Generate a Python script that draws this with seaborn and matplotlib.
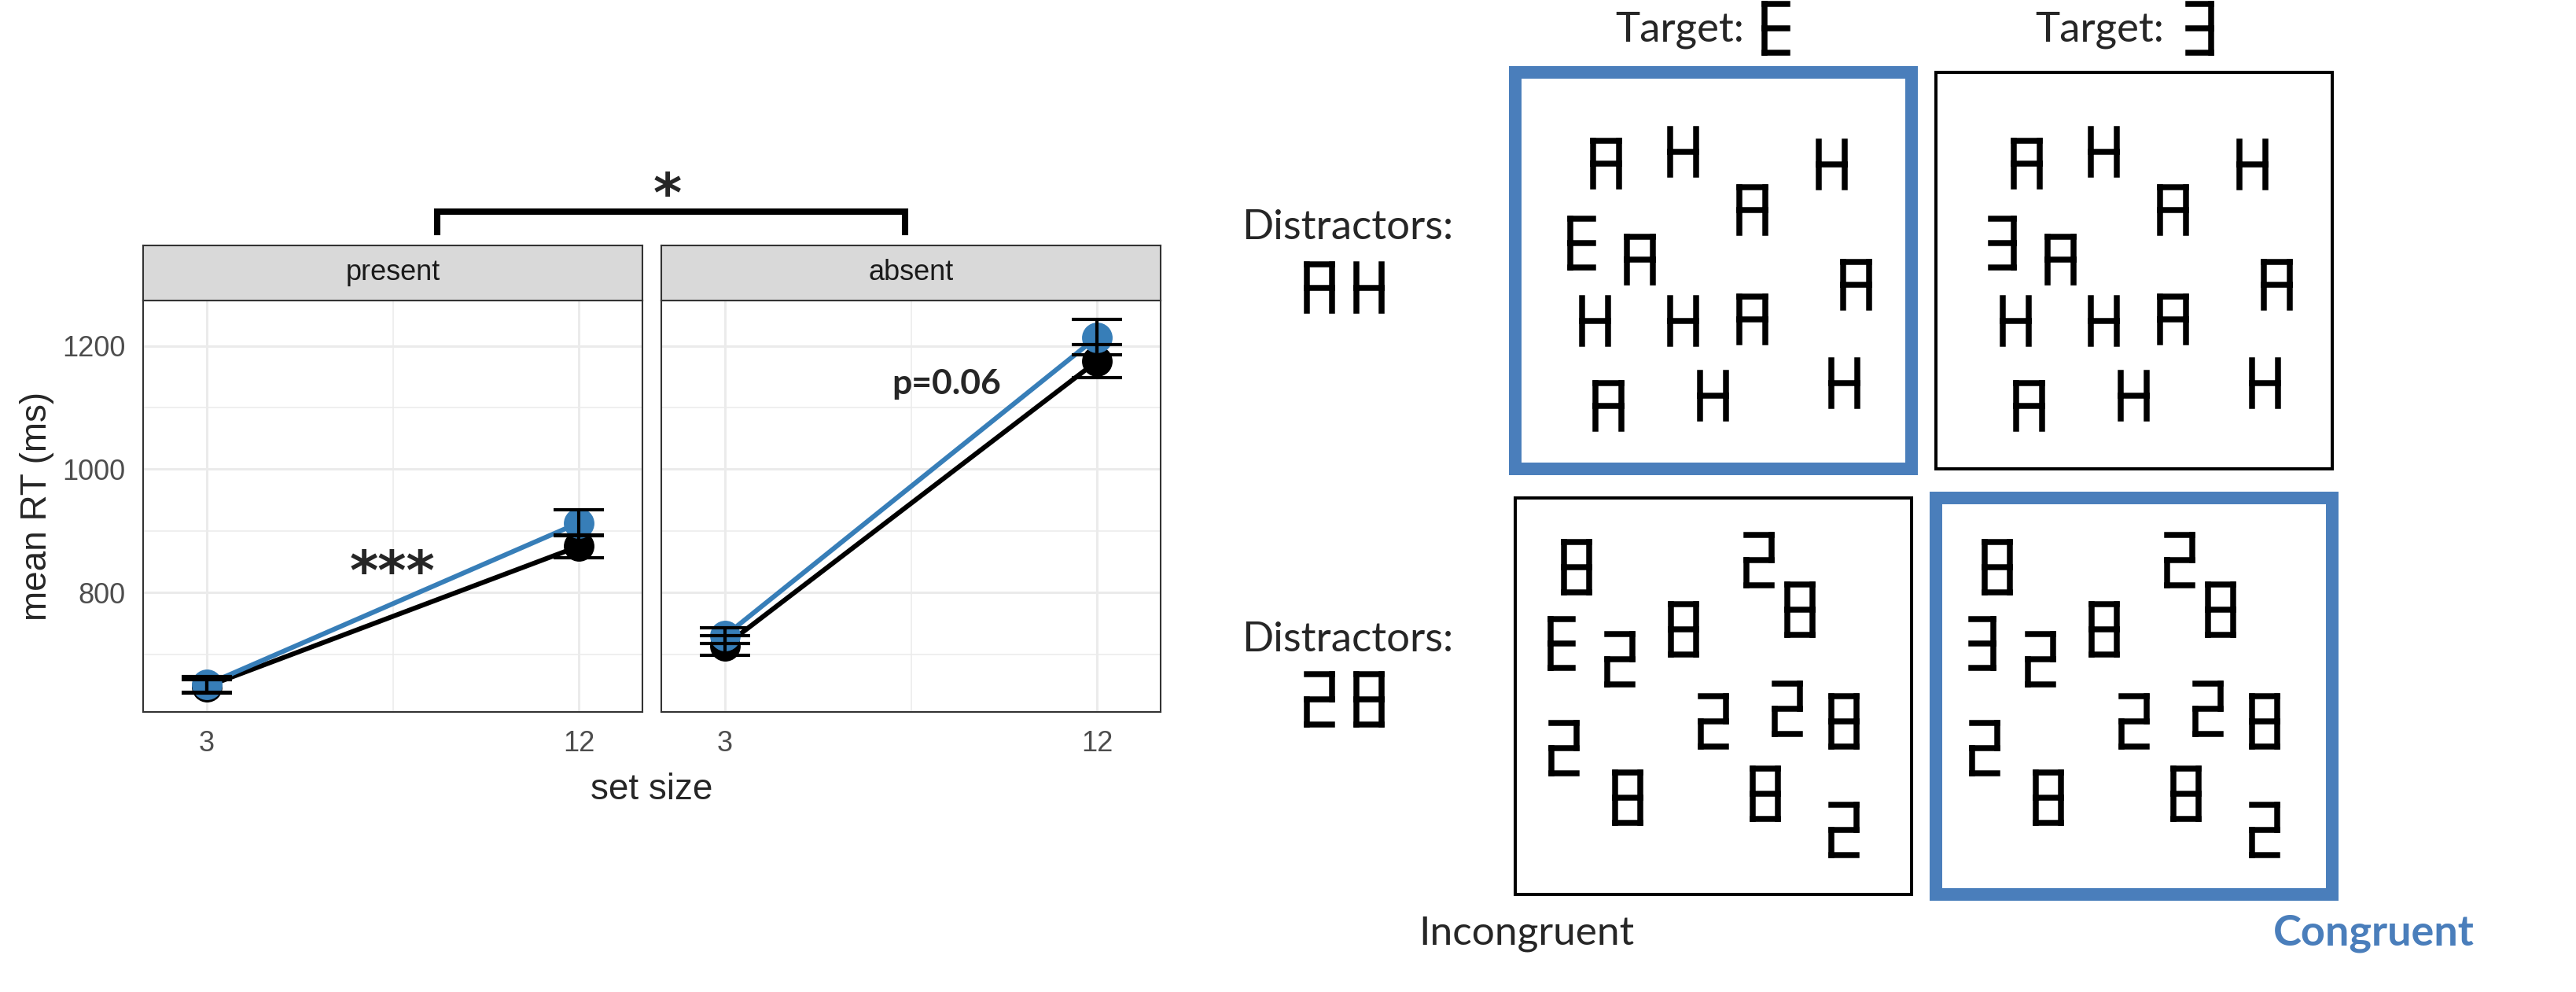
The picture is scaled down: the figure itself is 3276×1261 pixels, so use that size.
import numpy as np
import pandas as pd
import matplotlib
matplotlib.use('Agg')
import matplotlib.pyplot as plt
from matplotlib.patches import Rectangle
import seaborn as sns

# --- data (mean RT in ms, error bar half widths) ---
set_sizes = [3, 12]
panels = ['present', 'absent']
conditions = ['incongruent', 'congruent']
present_incongruent = [648, 875]
present_congruent = [651, 913]
absent_incongruent = [714, 1175]
absent_congruent = [730, 1214]
present_incongruent_err = [11, 18]
present_congruent_err = [13, 21]
absent_incongruent_err = [16, 27]
absent_congruent_err = [13, 29]
y_ticks = [800, 1000, 1200]
panel_notes = ['***', 'p=0.06']

# stimulus displays: (character, offset from box centre) -- 'T' is the target
top_display = [('A', -136, -136), ('H', -38, -151), ('H', 151, -135), ('A', 50, -77),
               ('T', -167, -35), ('A', -93, -14), ('A', 182, 18), ('H', -150, 64),
               ('H', -38, 64), ('A', 50, 62), ('A', -133, 172), ('H', 0, 159), ('H', 167, 143)]
bottom_display = [('8', -174, -164), ('2', 58, -173), ('8', 110, -110), ('T', -193, -67),
                  ('2', -119, -47), ('8', -38, -85), ('2', 0, 32), ('2', 94, 16),
                  ('8', 166, 32), ('2', -190, 66), ('8', -109, 129), ('8', 66, 124), ('2', 166, 170)]
targets = ['E', '3']
distractor_sets = ['AH', '28']

rows = []
for panel, inc, con, inc_e, con_e in [
        ('present', present_incongruent, present_congruent, present_incongruent_err, present_congruent_err),
        ('absent', absent_incongruent, absent_congruent, absent_incongruent_err, absent_congruent_err)]:
    for i, s in enumerate(set_sizes):
        rows.append(dict(panel=panel, set_size=s, cond='incongruent', rt=inc[i], err=inc_e[i]))
        rows.append(dict(panel=panel, set_size=s, cond='congruent', rt=con[i], err=con_e[i]))
df = pd.DataFrame(rows)

W, H = 3276, 1261
BLUE = '#377EB8'
BOX_BLUE = '#4A7EBB'
palette = {'incongruent': 'black', 'congruent': BLUE}

sns.set_style('white')
plt.rcParams['font.family'] = ['Liberation Sans', 'DejaVu Sans']

fig = plt.figure(figsize=(W / 100, H / 100), dpi=100)


def fbox(x0, y0, x1, y1):
    # pixel box (y down) -> figure fraction
    return [x0 / W, 1 - y1 / H, (x1 - x0) / W, (y1 - y0) / H]


lo = (df.rt - df.err).min()
hi = (df.rt + df.err).max()
pad = 0.05 * (hi - lo)
minor_y = np.arange(y_ticks[0] - 100, y_ticks[-1], 200)
star_font = ['DejaVu Sans']

for i, panel in enumerate(panels):
    x0 = [182, 841][i]
    sub = df[df.panel == panel]
    ax = fig.add_axes(fbox(x0, 382, x0 + 635, 905))
    sns.lineplot(data=sub, x='set_size', y='rt', hue='cond', hue_order=conditions,
                 palette=palette, marker='o', markersize=28, markeredgewidth=0,
                 linewidth=4.4, legend=False, errorbar=None, ax=ax)
    for cond in conditions:
        s = sub[sub.cond == cond]
        ax.errorbar(s.set_size, s.rt, yerr=s.err, fmt='none', ecolor='black',
                    elinewidth=3, capsize=22.7, capthick=3, zorder=5)
    ax.set_xlim(1.46, 13.54)
    ax.set_ylim(lo - pad, hi + pad)
    ax.set_xticks(set_sizes)
    ax.set_xticks([np.mean(set_sizes)], minor=True)
    ax.set_yticks(y_ticks)
    ax.set_yticks(minor_y, minor=True)
    ax.grid(which='major', color='#EBEBEB', lw=2.2)
    ax.grid(which='minor', color='#EBEBEB', lw=1.1)
    ax.set_axisbelow(True)
    ax.set_xlabel('')
    ax.set_ylabel('')
    ax.tick_params(which='major', length=6.8, width=1.5, color='#333333',
                   labelsize=26, labelcolor='#4D4D4D', pad=9.5)
    ax.tick_params(which='minor', length=0)
    if i > 0:
        ax.tick_params(axis='y', left=False, labelleft=False)
    for sp in ax.spines.values():
        sp.set_color('#333333')
        sp.set_linewidth(1.5)

    # facet strip
    sax = fig.add_axes(fbox(x0, 312, x0 + 635, 382))
    sax.set_facecolor('#D9D9D9')
    sax.set_xticks([])
    sax.set_yticks([])
    for sp in sax.spines.values():
        sp.set_color('#333333')
        sp.set_linewidth(1.5)
    sax.text(0.5, 0.5, panel, transform=sax.transAxes, ha='center', va='center',
             fontsize=26, color='#1A1A1A')

    if i == 0:
        ax.text(7.5, 830, panel_notes[i], ha='center', va='center', fontsize=50,
                fontweight='bold', family=star_font)
    else:
        ax.text(8.36, 1122, panel_notes[i], ha='center', va='baseline', fontsize=32,
                fontweight='bold', family=['Lato', 'DejaVu Sans'])

fig.text(47 / W, 1 - 643 / H, 'mean RT (ms)', rotation=90, ha='center', va='center', fontsize=33)
fig.text(829 / W, 1 - 1016 / H, 'set size', ha='center', va='baseline', fontsize=33)

# overlay in pixel coordinates for the bracket and the stimulus diagram
ov = fig.add_axes([0, 0, 1, 1])
ov.set_xlim(0, W)
ov.set_ylim(H, 0)
ov.axis('off')
ov.patch.set_alpha(0)

ov.plot([556, 556, 1151, 1151], [299, 269, 269, 299], color='black', lw=5.8,
        solid_joinstyle='miter', solid_capstyle='butt')
ov.text(849, 250, '*', ha='center', va='center', fontsize=50, fontweight='bold',
        family=star_font)

SEGS = {'A': 'abcefg', 'H': 'bcefg', 'E': 'adefg', '3': 'abcdg', '2': 'abdeg', '8': 'abcdefg'}
GSIZE = {'A': (40, 66), 'H': (40, 66), 'E': (36, 70), '3': (36, 70), '2': (40, 71), '8': (40, 71)}


def glyph(ch, cx, cy, t=7.5):
    w, h = GSIZE[ch]
    l, r = cx - w / 2 + t / 2, cx + w / 2 - t / 2
    top, bot = cy - h / 2 + t / 2, cy + h / 2 - t / 2
    pts = {'a': ((l, top), (r, top)), 'b': ((r, top), (r, cy)), 'c': ((r, cy), (r, bot)),
           'd': ((l, bot), (r, bot)), 'e': ((l, cy), (l, bot)), 'f': ((l, top), (l, cy)),
           'g': ((l, cy), (r, cy))}
    for s in SEGS[ch]:
        (xa, ya), (xb, yb) = pts[s]
        ov.plot([xa, xb], [ya, yb], color='black', lw=t * 0.72, solid_capstyle='projecting')


box_half = 252
boxes = [(2178.5, 344, top_display, 0), (2713.7, 344, top_display, 1),
         (2179, 885, bottom_display, 0), (2714, 885, bottom_display, 1)]
for cx, cy, disp, k in boxes:
    congruent = (cy < 600) == (k == 0)
    ov.add_patch(Rectangle((cx - box_half, cy - box_half), 2 * box_half, 2 * box_half,
                           fill=False, ec=BOX_BLUE if congruent else 'black',
                           lw=11.5 if congruent else 2.9, joinstyle='miter'))
    for ch, dx, dy in disp:
        glyph(targets[k] if ch == 'T' else ch, cx + dx, cy + dy)

calibri = ['Lato', 'DejaVu Sans']
for k, (tx, gx) in enumerate([(2054, 2258.5), (2588, 2797.4)]):
    ov.text(tx, 52.7, 'Target:', ha='left', va='baseline', fontsize=38, family=calibri)
    glyph(targets[k], gx, 36)

for j, (base, gy) in enumerate([(304, 365.5), (828.4, 889)]):
    ov.text(1713.5, base, 'Distractors:', ha='center', va='baseline', fontsize=38, family=calibri)
    for n, ch in enumerate(distractor_sets[j]):
        glyph(ch, 1678 + 63 * n, gy)

ov.text(1941, 1200, 'Incongruent', ha='center', va='baseline', fontsize=37, family=calibri)
ov.text(3019, 1201.7, 'Congruent', ha='center', va='baseline', fontsize=39,
        fontweight='bold', color=BOX_BLUE, family=calibri)

fig.savefig('out.png', dpi=100)
